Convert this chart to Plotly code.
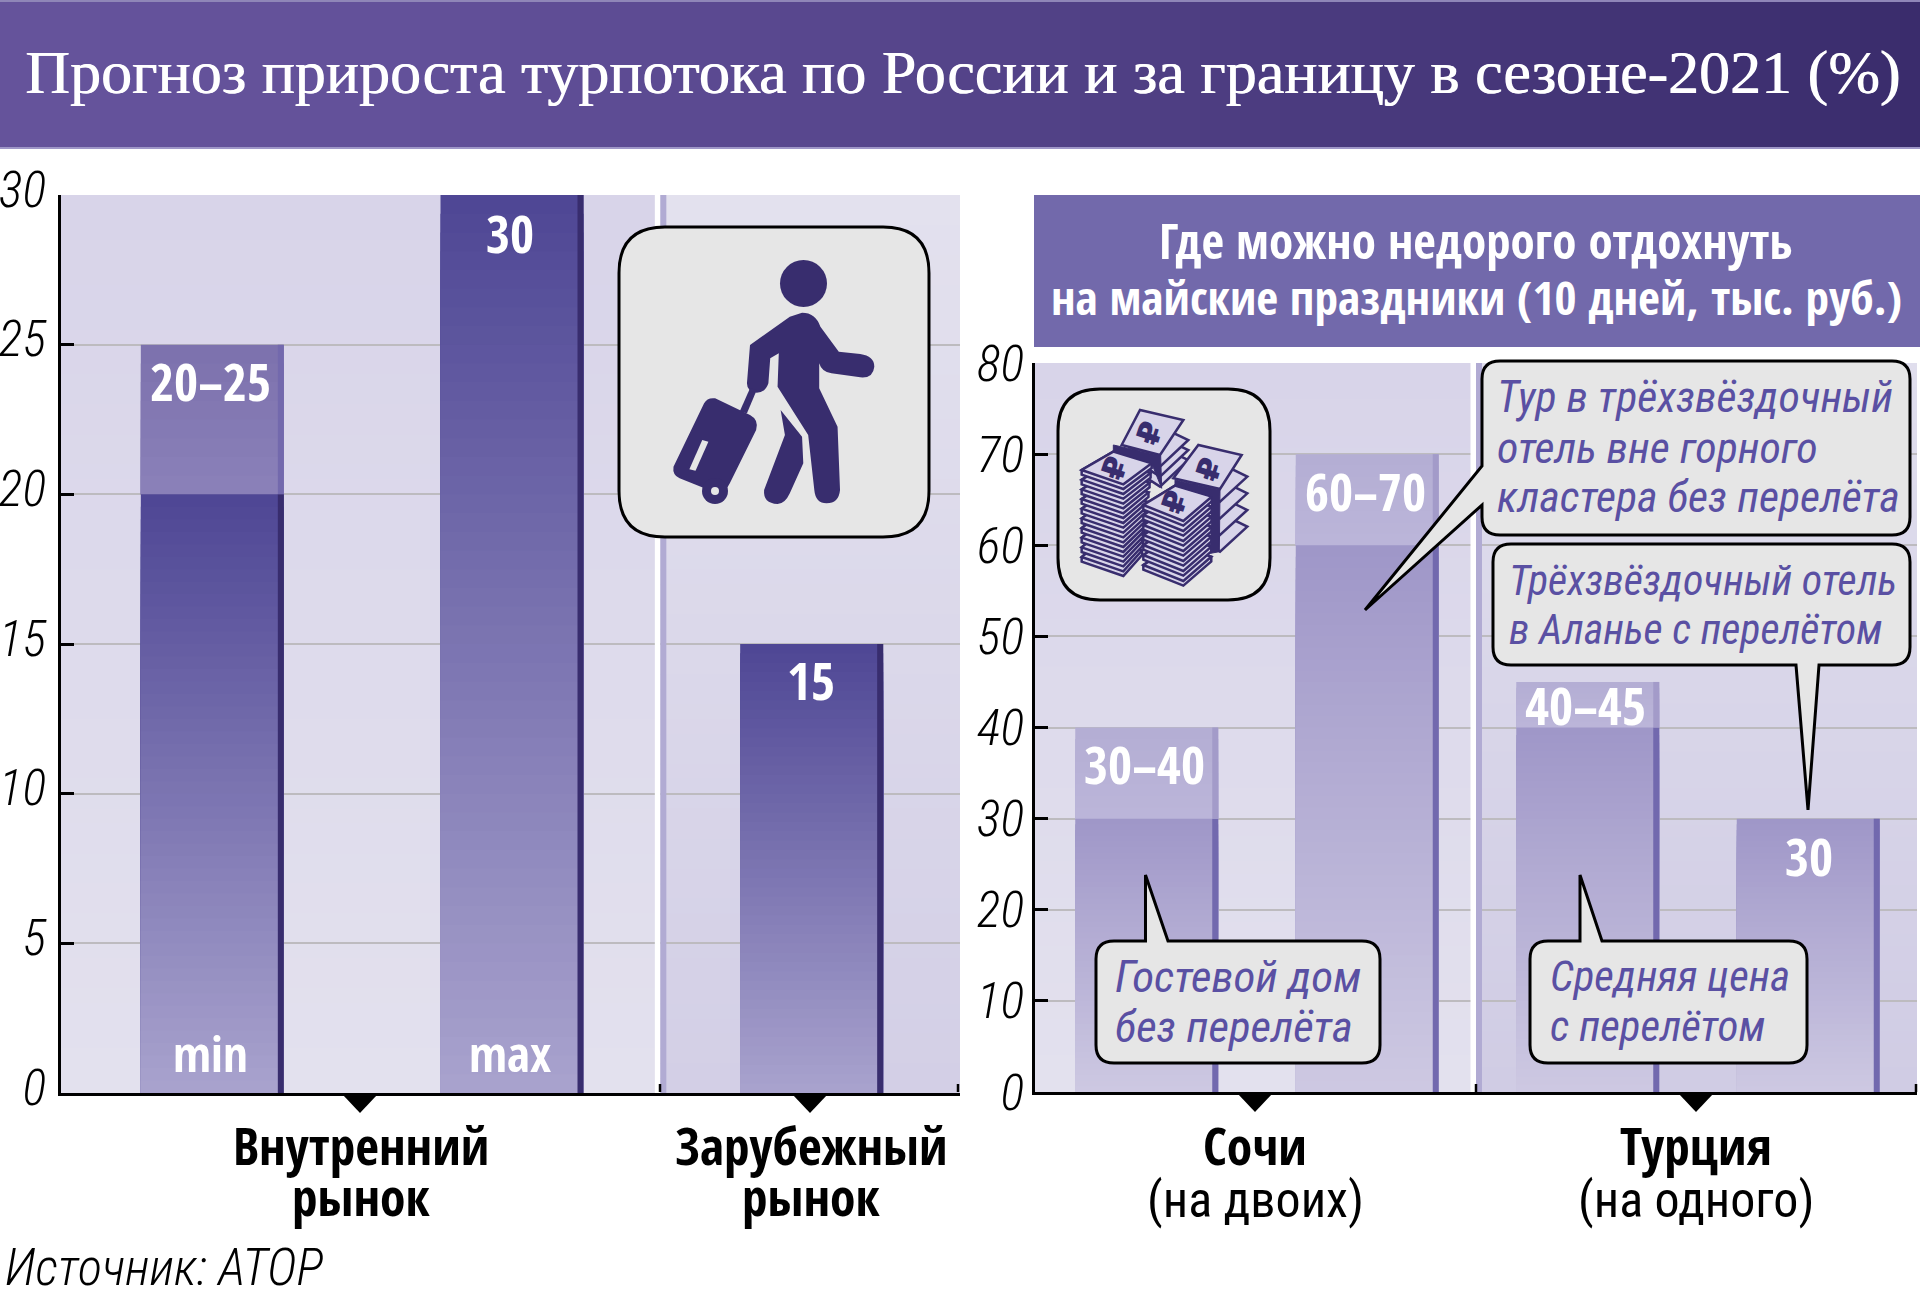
import numpy as np
import plotly.graph_objects as go

W, H = 1920, 1296
BOLDF = "Open Sans Condensed"
REGF = "Roboto Condensed"
SERIF = "Liberation Serif"

TITLE = "Прогноз прироста турпотока по России и за границу в сезоне-2021 (%)"
HEADER_LINES = ["Где можно недорого отдохнуть", "на майские праздники (10 дней, тыс. руб.)"]
SOURCE = "Источник: АТОР"

growth_cats = ["min", "max", "Зарубежный"]
growth_low = [20, 30, 15]
growth_high = [25, 30, 15]
growth_labels = ["20–25", "30", "15"]

price_cats = ["Гостевой дом", "Тур в трёхзвёздочный", "Средняя цена", "Трёхзвёздочный в Аланье"]
price_low = [30, 60, 40, 30]
price_high = [40, 70, 45, 30]
price_labels = ["30–40", "60–70", "40–45", "30"]


def px(x):
    return x / W


def py(y):
    return 1 - y / H


def path_poly(pts):
    return "M" + " L".join(f"{px(x):.5f},{py(y):.5f}" for x, y in pts) + " Z"


def hex2rgb(c):
    c = c.lstrip("#")
    return tuple(int(c[i:i + 2], 16) for i in (0, 2, 4))


def mix(c1, c2, t):
    a, b = hex2rgb(c1), hex2rgb(c2)
    return "rgb(%d,%d,%d)" % tuple(round(a[i] + (b[i] - a[i]) * t) for i in range(3))


shapes = []
annots = []


def vstrips(x0, x1, y0, y1, top, bot, n=60):
    for i in range(n):
        ya = y0 + (y1 - y0) * i / n
        yb = y0 + (y1 - y0) * (i + 1) / n + (1 if i < n - 1 else 0)
        shapes.append(dict(type="rect", xref="paper", yref="paper", x0=px(x0), x1=px(x1), y0=py(yb), y1=py(ya),
                           fillcolor=mix(top, bot, i / (n - 1)), line_width=0, layer="below"))


def text(s, x, y, size, color="#000000", family=REGF, italic=False, weight="normal", anchor="center", angle=0, shadow=None):
    font = dict(size=size, color=color, family=family, weight=weight, style="italic" if italic else "normal")
    if shadow:
        font["shadow"] = shadow
    annots.append(dict(text=s, x=px(x), y=py(y), xref="paper", yref="paper", xanchor=anchor, yanchor="middle",
                       showarrow=False, textangle=angle, font=font))


# ---- title band
n = 96
for i in range(n):
    xa, xb = 1920 * i / n, 1920 * (i + 1) / n + 1
    xm = (xa + xb) / 2
    col = mix("#65539b", "#63519a", xm / 400) if xm < 400 else mix("#63519a", "#3a2c6c", (xm - 400) / 1520)
    shapes.append(dict(type="rect", xref="paper", yref="paper", x0=px(xa), x1=px(xb), y0=py(148), y1=py(0),
                       fillcolor=col, line_width=0, layer="below"))
shapes.append(dict(type="rect", xref="paper", yref="paper", x0=0, x1=1, y0=py(2), y1=py(0), fillcolor="#8f86b8", line_width=0, layer="below"))
shapes.append(dict(type="rect", xref="paper", yref="paper", x0=0, x1=1, y0=py(149), y1=py(147), fillcolor="#9f97c8", line_width=0, layer="below"))
text(TITLE, 962, 73, 62, "#ffffff", family=SERIF, shadow="0.8px 0 0 #ffffff")

# ---- panel backgrounds
LX0, LX1, LY0, LY1 = 61, 960, 195, 1093
RX0, RX1, RY0, RY1 = 1035, 1917, 363, 1092
lsep = LX0 + (LX1 - LX0) * 2 / 3
rsep = (RX0 + RX1) / 2
vstrips(LX0, lsep, LY0, LY1, "#d8d4e9", "#e3e1ee")
vstrips(lsep, LX1, LY0, LY1, "#e3e1ee", "#d3cfe6")
vstrips(RX0, rsep, RY0, RY1, "#d8d4e9", "#e3e1ee")
vstrips(rsep, RX1, RY0, RY1, "#e0deed", "#d0cce4")

# separators (over the grid, under the bars)
for xr, yr, top, wpx, span in [("x", "y", 30, 300, 1.5), ("x2", "y2", 80, 220.5, 1.5)]:
    shapes.append(dict(type="rect", xref=xr, yref=yr, x0=span - 5.5 / wpx, x1=span, y0=0, y1=top,
                       fillcolor="#ffffff", line_width=0, layer="between"))
    shapes.append(dict(type="rect", xref=xr, yref=yr, x0=span, x1=span + 6 / wpx, y0=0, y1=top,
                       fillcolor="#b1abd3", line_width=0, layer="between"))

# ---- header
shapes.append(dict(type="rect", xref="paper", yref="paper", x0=px(1034), x1=px(1920), y0=py(347), y1=py(195),
                   fillcolor="#7269ab", line_width=0, layer="below"))
text(HEADER_LINES[0], 1476, 240, 49, "#ffffff", family=BOLDF)
text(HEADER_LINES[1], 1476, 296, 47.5, "#ffffff", family=BOLDF)

# ---- axis decoration
for xa in [660, 958, 1476, 1916]:
    shapes.append(dict(type="line", xref="paper", yref="paper", x0=px(xa), x1=px(xa), y0=py(1084), y1=py(1092),
                       line=dict(color="#000000", width=2.5)))
for xc, yt in [(360, 1095), (810, 1095), (1255, 1094), (1696, 1094)]:
    shapes.append(dict(type="path", xref="paper", yref="paper",
                       path=path_poly([(xc - 17, yt), (xc + 17, yt), (xc, yt + 18)]),
                       fillcolor="#000000", line_width=0))


# ---- rounded boxes / callouts
def box_path(x0, y0, x1, y1, r, tail=None, side=None):
    t = tail or []
    def f(x, y):
        return f"{px(x):.5f},{py(y):.5f}"
    d = f"M{f(x0 + r, y0)}"
    if side == "top":
        d += "".join(f" L{f(*p)}" for p in t)
    d += f" L{f(x1 - r, y0)} Q{f(x1, y0)} {f(x1, y0 + r)} L{f(x1, y1 - r)} Q{f(x1, y1)} {f(x1 - r, y1)}"
    if side == "bottom":
        d += "".join(f" L{f(*p)}" for p in t)
    d += f" L{f(x0 + r, y1)} Q{f(x0, y1)} {f(x0, y1 - r)}"
    if side == "left":
        d += "".join(f" L{f(*p)}" for p in t)
    d += f" L{f(x0, y0 + r)} Q{f(x0, y0)} {f(x0 + r, y0)} Z"
    return d


def box(x0, y0, x1, y1, r, tail=None, side=None):
    shapes.append(dict(type="path", xref="paper", yref="paper", path=box_path(x0, y0, x1, y1, r, tail, side),
                       fillcolor="#e6e6e6", line=dict(color="#000000", width=3)))


box(619, 227, 929, 537, 46)
box(1058, 389, 1270, 600, 42)
box(1482, 361, 1910, 535, 18, [(1482, 505), (1365, 610), (1482, 466)], "left")
box(1493, 544, 1910, 665, 18, [(1819, 665), (1808, 810), (1796, 665)], "bottom")
box(1096, 941, 1380, 1063, 18, [(1145.5, 941), (1145.5, 875), (1168, 941)], "top")
box(1530, 941, 1807, 1063, 18, [(1580, 941), (1580, 875), (1602, 941)], "top")

CALLOUT = "#5a50a3"
for s, x, y, sz in [("Тур в трёхзвёздочный", 1495, 397, 44), ("отель вне горного", 1495, 448, 44), ("кластера без перелёта", 1495, 497, 44),
                    ("Трёхзвёздочный отель", 1507, 581, 42), ("в Аланье с перелётом", 1507, 629, 42),
                    ("Гостевой дом", 1113, 976, 45), ("без перелёта", 1113, 1026, 45),
                    ("Средняя цена", 1548, 976, 43), ("с перелётом", 1548, 1026, 43)]:
    text(s, x, y, sz, CALLOUT, italic=True, anchor="left")

# ---- traveller icon
DARK = "#382d6e"


def zp(x, y):
    return f"{px(x / 1.6333):.5f},{py(140 + y / 3):.5f}"


def ipath(cmds):
    out = []
    for c, *pts in cmds:
        out.append(c + " ".join(zp(*p) for p in pts))
    return " ".join(out) + " Z"


def icon(cmds, fill=DARK):
    shapes.append(dict(type="path", xref="paper", yref="paper", path=ipath(cmds), fillcolor=fill, line_width=0))


shapes.append(dict(type="circle", xref="paper", yref="paper", x0=px(780), x1=px(827), y0=py(307), y1=py(260),
                   fillcolor=DARK, line_width=0))
icon([("M", (1310, 518)), ("Q", (1332, 518), (1340, 560)), ("L", (1370, 635)), ("L", (1405, 642)),
      ("Q", (1428, 648), (1428, 680)), ("Q", (1426, 716), (1405, 712)), ("L", (1358, 700)), ("Q", (1342, 696), (1338, 670)),
      ("L", (1338, 745)), ("L", (1368, 860)), ("L", (1372, 1050)), ("Q", (1370, 1090), (1350, 1090)),
      ("Q", (1332, 1090), (1330, 1050)), ("L", (1320, 885)), ("L", (1270, 740)), ("L", (1272, 640)), ("L", (1258, 655)),
      ("L", (1255, 730)), ("Q", (1250, 758), (1236, 758)), ("Q", (1220, 755), (1220, 730)), ("L", (1225, 615)), ("L", (1290, 530))])
icon([("M", (1275, 810)), ("L", (1310, 890)), ("L", (1312, 970)), ("L", (1290, 1060)), ("Q", (1282, 1092), (1270, 1092)),
      ("Q", (1246, 1090), (1248, 1050)), ("L", (1282, 885))])
icon([("M", (1225, 745)), ("L", (1236, 750)), ("L", (1220, 820)), ("L", (1208, 815))])
icon([("M", (1168, 775)), ("L", (1225, 825)), ("Q", (1240, 840), (1235, 870)), ("L", (1192, 1030)), ("Q", (1185, 1060), (1165, 1055)),
      ("L", (1110, 1015)), ("Q", (1098, 1005), (1100, 980)), ("L", (1150, 790)), ("Q", (1155, 772), (1168, 775))])
shapes.append(dict(type="circle", xref="paper", yref="paper", x0=px(702), x1=px(728), y0=py(504), y1=py(478),
                   fillcolor=DARK, line_width=0))
shapes.append(dict(type="circle", xref="paper", yref="paper", x0=px(711), x1=px(719), y0=py(495), y1=py(487),
                   fillcolor="#e6e6e6", line_width=0))
icon([("M", (1147, 900)), ("L", (1157, 905)), ("L", (1136, 992)), ("L", (1126, 988))], "#e6e6e6")


# ---- money icon
def mp(x, y):
    return (1060 + x / 3, 395 + y / 3)


def sheet(pts, fill="#d8d4e9", lw=2.5):
    shapes.append(dict(type="path", xref="paper", yref="paper", path=path_poly([mp(*p) for p in pts]),
                       fillcolor=fill, line=dict(color=DARK, width=lw)))


def stack(L, T, R, B, n, step, narrow):
    for k in range(n - 1, -1, -1):
        dy = k * step
        d = 14
        sheet([(L[0], L[1] + dy), (L[0], L[1] + dy + d), (B[0], B[1] + dy + d),
               (R[0] - narrow * k, R[1] + dy + d), (R[0] - narrow * k, R[1] + dy),
               (T[0] - narrow * k, T[1] + dy)])
        sheet([(L[0], L[1] + dy), (B[0], B[1] + dy), (R[0] - narrow * k, R[1] + dy), (T[0] - narrow * k, T[1] + dy)])


for k in (60, 30, 0):
    sheet([(200, 150 + k), (290, 90 + k), (385, 135 + k), (300, 215 + k)])
sheet([(185, 150), (240, 45), (370, 75), (300, 180)])
stack((65, 225), (160, 170), (275, 205), (190, 268), 10, 29, 3.2)
sheet([(160, 150), (302, 182), (305, 280), (275, 205), (160, 168)], fill=DARK, lw=1)
for k in (150, 100, 50, 0):
    sheet([(400, 270 + k), (480, 205 + k), (562, 245 + k), (480, 320 + k)])
sheet([(340, 250), (415, 150), (545, 180), (480, 282)])
stack((250, 330), (345, 272), (455, 305), (370, 378), 7, 30, 0.2)
sheet([(345, 255), (480, 285), (478, 470), (452, 475), (455, 305), (345, 272)], fill=DARK, lw=1)
for x, y in [(270, 115), (165, 220), (448, 222), (345, 322)]:
    mx, my = mp(x, y)
    text("₽", mx, my, 32, DARK, family="DejaVu Sans", weight="bold", angle=-72)

# ---- value labels
for s, x, y in zip(growth_labels, [210, 510, 811], [381, 233, 679]):
    text(s, x, y, 52, "#ffffff", family=BOLDF)
text("min", 210, 1053, 49, "#ffffff", family=BOLDF)
text("max", 510, 1053, 49, "#ffffff", family=BOLDF)
for s, x, y in zip(price_labels, [1144, 1365, 1585, 1809], [763, 491, 704, 855]):
    text(s, x, y, 52, "#ffffff", family=BOLDF)

# ---- group labels
for s, x, y, f, sz in [("Внутренний", 361, 1145, BOLDF, 51.5), ("рынок", 361, 1196, BOLDF, 51.5),
                       ("Зарубежный", 811, 1145, BOLDF, 51.5), ("рынок", 811, 1196, BOLDF, 51.5),
                       ("Сочи", 1255, 1145, BOLDF, 51.5), ("(на двоих)", 1255, 1200, REGF, 50),
                       ("Турция", 1696, 1145, BOLDF, 51.5), ("(на одного)", 1696, 1200, REGF, 50)]:
    text(s, x, y, sz, "#000000", family=f)
text(SOURCE, 3, 1267, 51, "#000000", italic=True, weight=300, anchor="left")


# ---- bars: each bar is painted as nested steps so the gradient has no seams
def grad_segments(cats, lows, highs, c_top, c_bot, c_rtop, c_rbot, n=48):
    xs, bases, hs, cols = [], [], [], []
    for c, lo, hi in zip(cats, lows, highs):
        if hi > lo:
            m = 8
            for i in range(m - 1, -1, -1):
                xs.append(c); bases.append(lo); hs.append((hi - lo) * (i + 1) / m)
                cols.append(mix(c_rbot, c_rtop, i / (m - 1)))
        for i in range(n - 1, -1, -1):
            xs.append(c); bases.append(0); hs.append(lo * (i + 1) / n)
            cols.append(mix(c_bot, c_top, i / (n - 1)))
    return xs, bases, hs, cols


fig = go.Figure()


def add_bars(cats, lows, highs, xa, ya, slot, c_top, c_bot, c_rtop, c_rbot, e_col, e_rcol):
    w = 143 / slot
    off = -70 / slot
    e = 6 / slot
    xs, bases, hs, cols = grad_segments(cats, lows, highs, c_top, c_bot, c_rtop, c_rbot)
    fig.add_trace(go.Bar(x=xs, y=hs, base=bases, width=w, offset=off, marker=dict(color=cols, line_width=0),
                         xaxis=xa, yaxis=ya, showlegend=False, hoverinfo="skip"))
    fig.add_trace(go.Bar(x=cats, y=lows, width=e, offset=off + w - e, marker=dict(color=e_col, line_width=0),
                         xaxis=xa, yaxis=ya, showlegend=False, hoverinfo="skip"))
    fig.add_trace(go.Bar(x=cats, y=[h - l for h, l in zip(highs, lows)], base=lows, width=e, offset=off + w - e,
                         marker=dict(color=e_rcol, line_width=0), xaxis=xa, yaxis=ya, showlegend=False, hoverinfo="skip"))


add_bars(growth_cats, growth_low, growth_high, "x", "y", 899 / 3, "#4f4795", "#a8a2cd", "#7d72ae", "#8a80b8", DARK, "#7369ad")
add_bars(price_cats, price_low, price_high, "x2", "y2", 882 / 4, "#9f97c8", "#cdc8e2", "#b4aed4", "#bbb5d9", "#7269ae", "#a39bc9")

common_y = dict(showline=True, linecolor="#000000", linewidth=3, ticks="inside", ticklen=13, tickwidth=2.5, tickcolor="#000000",
                showgrid=True, gridcolor="#bdbbbf", gridwidth=2, zeroline=False, fixedrange=True, automargin=False,
                tickfont=dict(family=REGF, size=50, style="italic", weight=300, color="#000000"))
common_x = dict(type="category", showline=True, linecolor="#000000", linewidth=3, ticks="", showticklabels=False,
                showgrid=False, zeroline=False, fixedrange=True, automargin=False)

fig.update_layout(
    width=W, height=H, margin=dict(l=0, r=0, t=0, b=0), autosize=False,
    paper_bgcolor="#ffffff", plot_bgcolor="rgba(0,0,0,0)", barmode="overlay", showlegend=False,
    xaxis=dict(domain=[px(LX0), px(LX1)], range=[-0.5, 2.5], anchor="y", categoryorder="array", categoryarray=growth_cats, **common_x),
    yaxis=dict(domain=[py(LY1), py(LY0)], range=[0, 30], dtick=5, tick0=0, anchor="x", ticklabelstandoff=2, ticklabelshift=-6, **common_y),
    xaxis2=dict(domain=[px(RX0), px(RX1)], range=[-0.5, 3.5], anchor="y2", categoryorder="array", categoryarray=price_cats, **common_x),
    yaxis2=dict(domain=[py(RY1), py(RY0)], range=[0, 80], dtick=10, tick0=0, anchor="x2", ticklabelstandoff=-2, **common_y),
    shapes=shapes, annotations=annots,
)
fig.write_html("out.html", config=dict(displayModeBar=False),
               post_script="document.body.style.margin='0';document.body.style.overflow='hidden';")
